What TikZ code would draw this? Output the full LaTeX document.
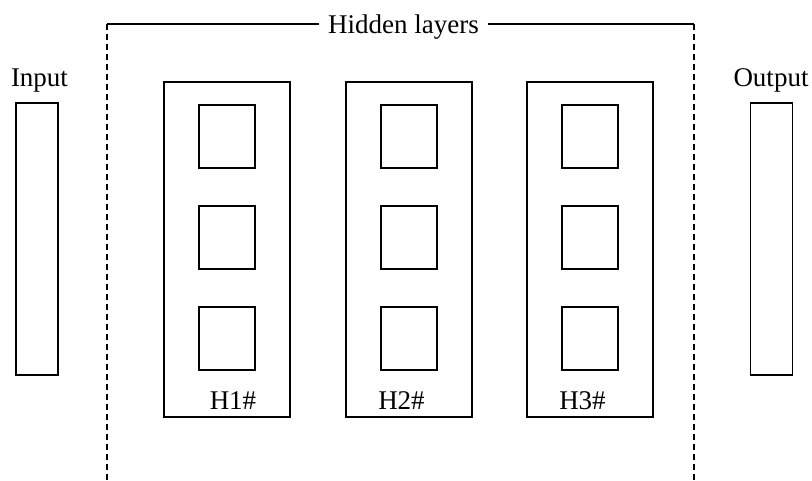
\documentclass[tikz,border=0pt]{standalone}
\usepackage{fontspec}
\setmainfont{Liberation Serif}
\usetikzlibrary{positioning}

\begin{document}
\begin{tikzpicture}[x=1pt, y=-1pt, line width=1.1pt,
    label/.style={font=\fontsize{27}{32}\selectfont, inner sep=0pt, anchor=base},
    iobox/.style={draw, minimum width=42pt, minimum height=272pt, inner sep=0pt},
    layerbox/.style={draw, minimum width=126pt, minimum height=335pt, inner sep=0pt},
    cellbox/.style={draw, minimum width=56pt, minimum height=63pt, inner sep=0pt},
    hidden/.style={dash pattern=on 6pt off 4pt}]
    \useasboundingbox (0,0) rectangle (812,480);
    \def\midy{249.5}
    %% Input & Output
    \node[iobox] (input) at (37,239) {};
    \node[iobox] (output) at (771.5,239) {};
    \node[label] (inputlabel) at (39.5,86) {Input};
    \node[label] (outputlabel) at (771,86) {Output};
    %% Hidden layers frame
    \coordinate (hidtl) at (107,24);
    \coordinate (hidtr) at (694,24);
    \coordinate (hidbl) at (107,484);
    \coordinate (hidbr) at (694,484);
    \node[label, inner xsep=8.5pt, inner ysep=2pt] (hidlabel) at (403.5,33) {Hidden layers};
    \draw (hidtl) -- (hidlabel.west |- hidtl);
    \draw (hidlabel.east |- hidtr) -- (hidtr);
    \draw[hidden] (hidtl) -- (hidbl);
    \draw[hidden] (hidtr) -- (hidbr);
    %% Layers with their cells
    \foreach \i/\x/\lx in {1/227/233, 2/409/401.5, 3/590/582.5} {
        \node[layerbox] (layer\i) at (\x,\midy) {};
        \foreach \j/\y in {1/136.5, 2/237.5, 3/338.5}
            \node[cellbox] (cell\i-\j) at (\x,\y) {};
        \node[label] (layerlabel\i) at (\lx,409) {H\i\#};
    }
\end{tikzpicture}
\end{document}
